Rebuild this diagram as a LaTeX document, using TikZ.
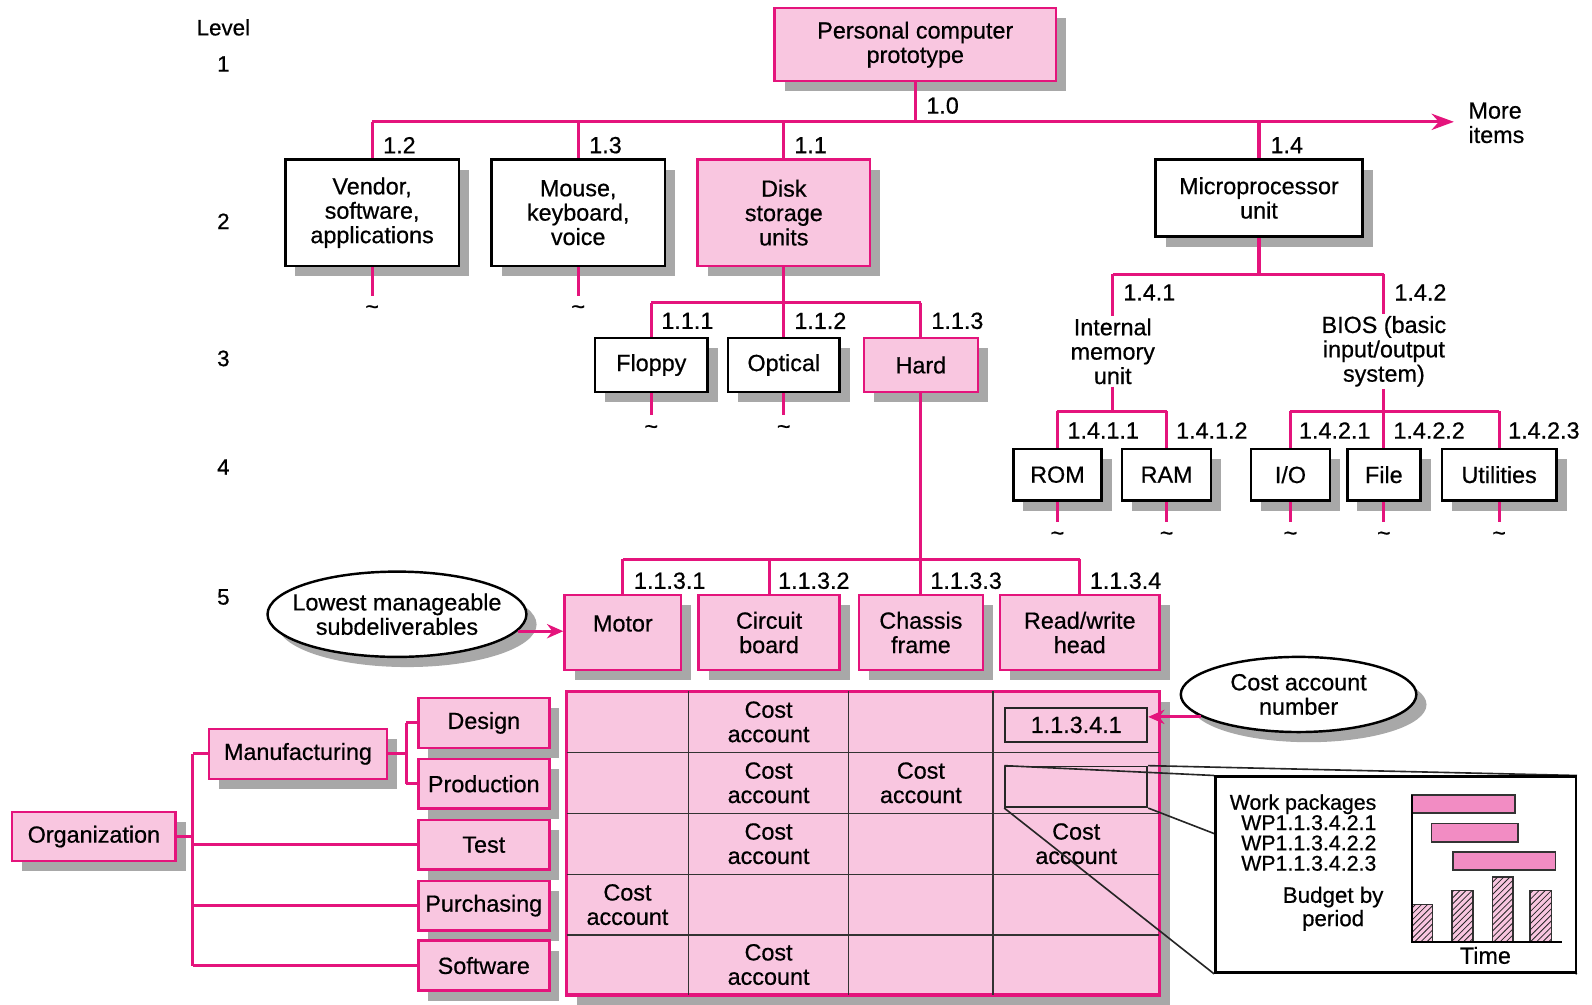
\documentclass[tikz,border=0pt]{standalone}
\usepackage{fontspec}
\setmainfont{Liberation Sans}[FakeBold=0.6]
\usetikzlibrary{shapes.geometric,shadows,arrows.meta,patterns}
\definecolor{mag}{RGB}{228,20,124}
\definecolor{pinkf}{RGB}{249,198,224}
\definecolor{barpink}{RGB}{242,140,195}
\definecolor{shgray}{RGB}{168,168,168}
\newcommand\dgf{\fontsize{11.5pt}{12pt}\selectfont}
\newcommand\dgs{\fontsize{10.5pt}{10pt}\selectfont}
\newcommand\dgb{\fontsize{11pt}{11.5pt}\selectfont}
\pgfdeclarelayer{front}
\pgfsetlayers{main,front}
\begin{document}
\begin{tikzpicture}[x=0.5pt,y=-0.5pt,
  shd/.style={general shadow={fill=shgray,shadow xshift=5pt,shadow yshift=-5pt}},
  wbox/.style={draw=black,line width=1.2pt,fill=white,shd,align=center,inner sep=1pt,font=\dgf},
  pbox/.style={draw=mag,line width=1.2pt,fill=pinkf,shd,align=center,inner sep=1pt,font=\dgf},
  conn/.style={draw=mag,line width=1.5pt},
  idl/.style={anchor=west,inner sep=0pt,font=\dgf},
  txt/.style={align=center,inner sep=1pt,font=\dgf},
  lvl/.style={inner sep=0pt,font=\dgb},
  tld/.style={font=\dgf,inner sep=0pt,anchor=center,yshift=-7pt},
  cellln/.style={draw=black!80,line width=0.6pt},
  ell/.style={ellipse,draw=black,line width=1.2pt,fill=white,shd,align=center,inner sep=0pt,font=\dgf},
  zl/.style={draw=black!85,line width=0.8pt},
  gbar/.style={draw=black!80,line width=0.8pt,fill=barpink},
  hbar/.style={draw=black!80,line width=0.8pt,fill=pinkf,postaction={pattern=north east lines,pattern color=black!85}}
]
\useasboundingbox (0,0) rectangle (1568,989);

% level labels
\node[lvl] (lvlt) at (220,27) {Level};
\node[lvl] (lv1) at (220,63) {1};
\node[lvl] (lv2) at (220,218) {2};
\node[lvl] (lv3) at (220,353) {3};
\node[lvl] (lv4) at (220,460) {4};
\node[lvl] (lv5) at (220,588) {5};

% level 1 and 2
\node[pbox,minimum width=138.5pt,minimum height=36pt] (top) at (901.5,44) {Personal computer\\prototype};
\coordinate (b1) at (901.5,120);
\coordinate (more) at (1432,120);
\node[wbox,minimum width=85.5pt,minimum height=52.5pt] (vendor) at (366.5,209.5) {Vendor,\\software,\\applications};
\node[wbox,minimum width=85.5pt,minimum height=52.5pt] (mouse) at (569.5,209.5) {Mouse,\\keyboard,\\voice};
\node[pbox,minimum width=85pt,minimum height=52.5pt] (disk) at (772,209.5) {Disk\\storage\\units};
\node[wbox,minimum width=102pt,minimum height=38pt] (micro) at (1240,195) {Microprocessor\\unit};
\draw[conn] (top.south) -- (b1);
\draw[conn,-{Stealth[length=11pt,width=8pt]}] (vendor.north |- b1) -- (more);
\foreach \n in {vendor,mouse,disk,micro} \draw[conn] (\n.north |- b1) -- (\n.north);
\node[anchor=west,inner sep=0pt,align=left,font=\dgf] (moreitems) at (1446,121) {More\\items};
\node[idl] (l10) at (912,104) {1.0};
\node[idl] (l12) at (377,143) {1.2};
\node[idl] (l13) at (580,143) {1.3};
\node[idl] (l11) at (782,143) {1.1};
\node[idl] (l14) at (1251,143) {1.4};
\draw[conn] (vendor.south) -- ++(0,28) node[tld] (tv) {\textasciitilde};
\draw[conn] (mouse.south) -- ++(0,28) node[tld] (tm) {\textasciitilde};

% level 3 under disk
\coordinate (b11) at (772,298);
\node[wbox,minimum width=55.5pt,minimum height=26.5pt] (floppy) at (641.5,359.5) {Floppy};
\node[wbox,minimum width=55pt,minimum height=26.5pt] (optical) at (772,359.5) {Optical};
\node[pbox,minimum width=56pt,minimum height=26.5pt] (hard) at (907,359.5) {Hard};
\draw[conn] (disk.south) -- (b11);
\draw[conn] (floppy.north |- b11) -- (hard.north |- b11);
\foreach \n in {floppy,optical,hard} \draw[conn] (\n.north |- b11) -- (\n.north);
\node[idl] (l111) at (651,316) {1.1.1};
\node[idl] (l112) at (782,316) {1.1.2};
\node[idl] (l113) at (917,316) {1.1.3};
\draw[conn] (floppy.south) -- ++(0,22) node[tld] (tf) {\textasciitilde};
\draw[conn] (optical.south) -- ++(0,22) node[tld] (to) {\textasciitilde};

% microprocessor subtree
\coordinate (b14) at (1240,270);
\node[txt] (imu) at (1096,346) {Internal\\memory\\unit};
\node[txt] (bios) at (1363,346) {BIOS (basic\\input/output\\system)};
\draw[conn] (micro.south) -- (b14);
\draw[conn] (imu.north |- b14) -- (bios.north |- b14);
\draw[conn] (imu.north |- b14) -- (imu.north);
\draw[conn] (bios.north |- b14) -- (bios.north);
\node[idl] (l141) at (1106,288) {1.4.1};
\node[idl] (l142) at (1373,288) {1.4.2};

\coordinate (b141) at (1096,405);
\coordinate (b142) at (1363,405);
\node[wbox,minimum width=43.5pt,minimum height=25.5pt] (rom) at (1041.5,467.5) {ROM};
\node[wbox,minimum width=44pt,minimum height=25.5pt] (ram) at (1149,467.5) {RAM};
\node[wbox,minimum width=39pt,minimum height=25.5pt] (io) at (1271,467.5) {I/O};
\node[wbox,minimum width=36pt,minimum height=25.5pt] (file) at (1363,467.5) {File};
\node[wbox,minimum width=56.5pt,minimum height=25.5pt] (util) at (1476.5,467.5) {Utilities};
\draw[conn] (imu.south) -- (b141);
\draw[conn] (rom.north |- b141) -- (ram.north |- b141);
\foreach \n in {rom,ram} \draw[conn] (\n.north |- b141) -- (\n.north);
\draw[conn] (bios.south) -- (b142);
\draw[conn] (io.north |- b142) -- (util.north |- b142);
\foreach \n in {io,file,util} \draw[conn] (\n.north |- b142) -- (\n.north);
\node[idl] (l1411) at (1051,424) {1.4.1.1};
\node[idl] (l1412) at (1158,424) {1.4.1.2};
\node[idl] (l1421) at (1279,424) {1.4.2.1};
\node[idl] (l1422) at (1372,424) {1.4.2.2};
\node[idl] (l1423) at (1485,424) {1.4.2.3};
\foreach \n in {rom,ram,io,file,util} \draw[conn] (\n.south) -- ++(0,20) node[tld] {\textasciitilde};

% level 5 under hard
\coordinate (b113) at (907,551);
\node[pbox,minimum width=57.5pt,minimum height=37pt] (motor) at (613.5,623) {Motor\\[-3pt]};
\node[pbox,minimum width=69.5pt,minimum height=37pt] (circuit) at (757.5,623) {Circuit\\board};
\node[pbox,minimum width=61pt,minimum height=37pt] (chassis) at (907,623) {Chassis\\frame};
\node[pbox,minimum width=78.5pt,minimum height=37pt] (rw) at (1063.5,623) {Read/write\\head};
\draw[conn] (hard.south) -- (b113);
\draw[conn] (motor.north |- b113) -- (rw.north |- b113);
\foreach \n in {motor,circuit,chassis,rw} \draw[conn] (\n.north |- b113) -- (\n.north);
\node[idl] (l1131) at (624,572) {1.1.3.1};
\node[idl] (l1132) at (766,572) {1.1.3.2};
\node[idl] (l1133) at (916,572) {1.1.3.3};
\node[idl] (l1134) at (1073,572) {1.1.3.4};

\node[ell,minimum width=127.5pt,minimum height=42pt,inner xsep=-7pt] (lme) at (391,605) {Lowest manageable\\subdeliverables};
\draw[conn,-{Stealth[length=8pt,width=7pt]}] (lme.352) -- (lme.352 -| motor.west);

% organization
\node[pbox,minimum width=80.5pt,minimum height=24pt] (org) at (92.5,824) {Organization};
\node[pbox,minimum width=87.5pt,minimum height=24.5pt] (manu) at (293.5,742.5) {Manufacturing};
\node[pbox,minimum width=64.5pt,minimum height=24.5pt] (design) at (476.5,712) {Design};
\node[pbox,minimum width=64.5pt,minimum height=24.5pt] (prod) at (476.5,772) {Production};
\node[pbox,minimum width=64.5pt,minimum height=24.5pt] (test) at (476.5,832) {Test};
\node[pbox,minimum width=64.5pt,minimum height=24.5pt] (purch) at (476.5,892) {Purchasing};
\node[pbox,minimum width=64.5pt,minimum height=24.5pt] (soft) at (476.5,951) {Software};
\coordinate (ox) at (190,824);
\coordinate (mx) at (400,742.5);
\draw[conn] (org.east) -- (ox);
\draw[conn] (ox |- manu.west) -- (ox |- soft.west);
\foreach \n in {manu,test,purch,soft} \draw[conn] (ox |- \n.west) -- (\n.west);
\draw[conn] (manu.east) -- (mx);
\draw[conn] (mx |- design.west) -- (mx |- prod.west);
\foreach \n in {design,prod} \draw[conn] (mx |- \n.west) -- (\n.west);

% cost account grid
\node[draw=mag,line width=1.5pt,fill=pinkf,shd,minimum width=292pt,minimum height=149.5pt,inner sep=0pt] (grid) at (850,830.5) {};
\foreach \xx in {678,836,978} \draw[cellln] (\xx,681) -- (\xx,980);
\foreach \yy in {741,801,861,921} \draw[cellln] (558,\yy) -- (1142,\yy);
\node[txt] (c12) at (757,711) {Cost\\account};
\node[txt] (c22) at (757,771) {Cost\\account};
\node[txt] (c23) at (907,771) {Cost\\account};
\node[txt] (c32) at (757,831) {Cost\\account};
\node[txt] (c34) at (1060,831) {Cost\\account};
\node[txt] (c41) at (618,891) {Cost\\account};
\node[txt] (c52) at (757,950) {Cost\\account};
\node[draw=black!85,line width=0.9pt,fill=pinkf,minimum width=70pt,minimum height=17pt,inner sep=0pt,font=\dgf] (cnum) at (1060,714) {1.1.3.4.1};
\node[draw=black!85,line width=0.9pt,fill=pinkf,minimum width=70pt,minimum height=20pt,inner sep=0pt] (eb) at (1060,775) {};

\node[ell,minimum width=116pt,minimum height=37pt] (cae) at (1279,684) {Cost account\\number};
\draw[conn,-{Stealth[length=8pt,width=7pt]}] (cae.193) -- (cae.193 -| cnum.east);

% inset
\begin{pgfonlayer}{front}
\node[draw=black,line width=1.2pt,fill=white,minimum width=177.5pt,minimum height=96.5pt,inner sep=0pt] (inset) at (1374.5,861.5) {};
\node[anchor=east,align=right,inner sep=0pt,font=\dgs] (wp) at (1356,820) {Work packages\\WP1.1.3.4.2.1\\WP1.1.3.4.2.2\\WP1.1.3.4.2.3};
\node[align=center,inner sep=0pt,font=\dgb] (budget) at (1313,895) {Budget by\\period};
\node[inner sep=0pt,font=\dgf] (time) at (1463,941) {Time};
\draw[gbar] (1391,783) rectangle (1492,801);
\draw[gbar] (1410,811) rectangle (1495,829);
\draw[gbar] (1431,839) rectangle (1532,857);
\draw[hbar] (1391,891) rectangle (1411,928);
\draw[hbar] (1430,877) rectangle (1451,928);
\draw[hbar] (1470,864) rectangle (1490,928);
\draw[hbar] (1507,877) rectangle (1528,928);
\draw[line width=1.1pt] (1391,783) -- (1391,928) -- (1538,928);
\end{pgfonlayer}
\draw[zl] (eb.north west) -- (inset.north west);
\draw[zl] (eb.north east) -- (inset.north east);
\draw[zl] (eb.south west) -- (inset.south west);
\draw[zl] (eb.south east) -- (inset.south east);
\end{tikzpicture}
\end{document}
